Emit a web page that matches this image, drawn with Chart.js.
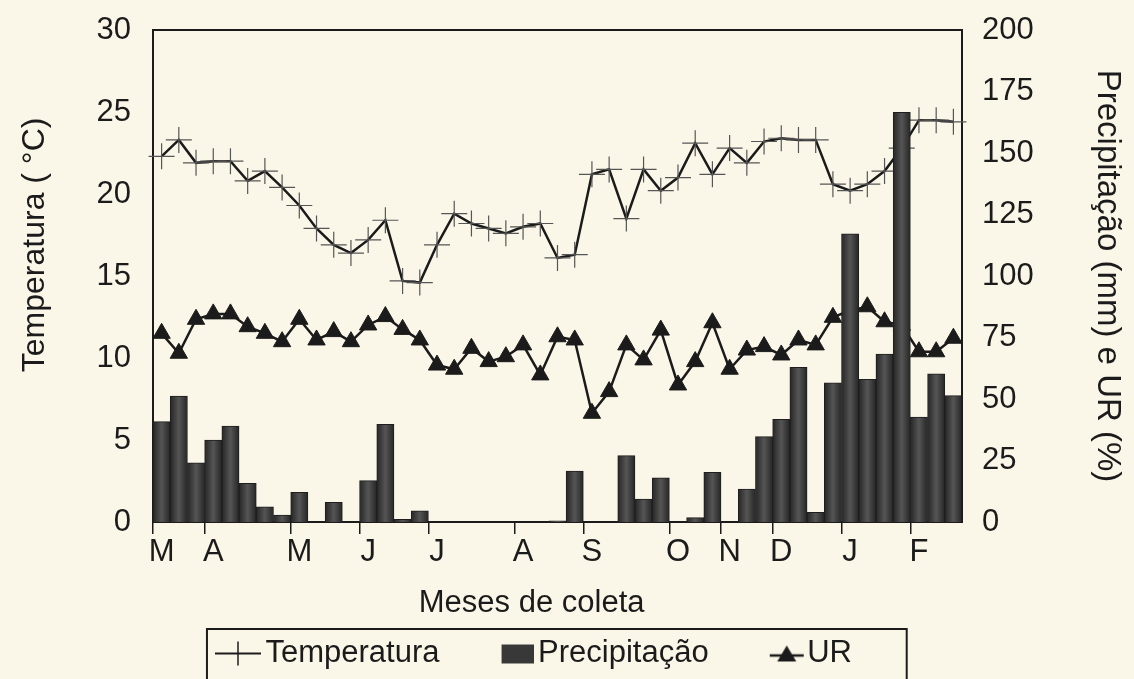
<!DOCTYPE html>
<html lang="pt">
<head>
<meta charset="utf-8">
<title>Temperatura, precipitação e UR</title>
<script src="https://cdn.jsdelivr.net/npm/chart.js@4.4.1/dist/chart.umd.min.js"></script>
<style>
  html, body { margin: 0; padding: 0; background: #fbf7e8; }
  #wrap { width: 1134px; height: 679px; position: relative; }
</style>
</head>
<body>
<div id="wrap"><canvas id="grafico"></canvas></div>
<script>
// 47 coletas, de março a fevereiro
var mesesLetras = ["M", "A", "M", "J", "J", "A", "S", "O", "N", "D", "J", "F"];
var mesesInicio = [0, 3, 8, 12, 16, 21, 25, 30, 33, 36, 40, 44];

var temperatura = [22.3, 23.3, 21.9, 22.0, 22.0, 20.8, 21.4, 20.4, 19.3, 17.9, 16.9, 16.4,
  17.2, 18.4, 14.7, 14.6, 16.9, 18.8, 18.2, 17.9, 17.6, 18.0, 18.2, 16.1, 16.3, 21.2, 21.5,
  18.5, 21.5, 20.2, 21.0, 23.1, 21.2, 22.8, 21.9, 23.2, 23.4, 23.3, 23.3, 20.6, 20.2, 20.6,
  21.4, 22.8, 24.5, 24.5, 24.4];

var precipitacao = [40.8, 51.2, 24.1, 33.3, 39.0, 15.7, 6.2, 2.8, 12.1, 0, 8.0, 0, 16.8,
  39.7, 1.1, 4.5, 0, 0, 0, 0, 0, 0, 0, 0.5, 20.7, 0, 0, 27.0, 9.3, 18.0, 0, 1.8, 20.2, 0,
  13.4, 34.7, 41.7, 62.9, 3.9, 56.6, 117.1, 58.0, 68.3, 166.5, 42.6, 60.2, 51.4];

var ur = [76.7, 68.6, 82.4, 84.6, 84.6, 79.4, 76.7, 73.3, 82.4, 74.0, 77.4, 73.3, 80.1,
  83.5, 78.3, 74.0, 63.8, 62.1, 70.6, 65.2, 67.2, 72.0, 59.8, 75.3, 74.0, 44.2, 53.0, 72.0,
  65.9, 78.0, 55.7, 65.2, 81.0, 62.1, 69.9, 71.3, 67.9, 74.0, 72.0, 83.2, 86.0, 87.5, 81.4,
  80.0, 69.2, 69.2, 74.7];

// rotulos do eixo x: letra do mes so na coleta onde o mes comeca
var rotulosX = temperatura.map(function () { return ""; });
mesesInicio.forEach(function (pos, i) { rotulosX[pos] = mesesLetras[i]; });

var corTexto = "#1b1b1b";
var corBarra = "#383838";
var fonte = "'Liberation Sans', Arial, Helvetica, sans-serif";

Chart.defaults.font.family = fonte;
Chart.defaults.color = corTexto;

// icones da legenda (linha + marcador)
function criarIcone(larg, alt, desenhar) {
  var c = document.createElement("canvas");
  c.width = larg;
  c.height = alt;
  desenhar(c.getContext("2d"));
  return c;
}

var iconeTemp = criarIcone(52, 30, function (g) {
  g.strokeStyle = corTexto;
  g.lineWidth = 2;
  g.beginPath(); g.moveTo(6, 15); g.lineTo(52, 15); g.stroke();
  g.lineWidth = 1.5;
  g.beginPath(); g.moveTo(29, 3); g.lineTo(29, 27); g.stroke();
});

var iconePrec = criarIcone(52, 22, function (g) {
  g.fillStyle = corBarra;
  g.fillRect(20, 2, 32, 19);
});

var iconeUR = criarIcone(66, 26, function (g) {
  g.strokeStyle = corTexto;
  g.lineWidth = 2.5;
  g.beginPath(); g.moveTo(26, 15); g.lineTo(60, 15); g.stroke();
  g.fillStyle = corTexto;
  g.beginPath(); g.moveTo(43, 5); g.lineTo(52.5, 21); g.lineTo(33.5, 21); g.closePath(); g.fill();
});

// barra com faixa clara no meio, como a textura do original
function corDaBarra(c) {
  var chart = c.chart;
  var area = chart.chartArea;
  if (!area || c.type !== "data") return corBarra;
  var larg = (area.right - area.left) / rotulosX.length;
  var x = chart.scales.x.getPixelForValue(c.dataIndex);
  var grad = chart.ctx.createLinearGradient(x - larg / 2, 0, x + larg / 2, 0);
  grad.addColorStop(0, "#262626");
  grad.addColorStop(0.5, "#555555");
  grad.addColorStop(1, "#262626");
  return grad;
}

// moldura em volta da legenda
var caixaLegenda = {
  id: "caixaLegenda",
  afterDraw: function (chart) {
    var leg = chart.legend;
    if (!leg || !leg.legendHitBoxes || leg.legendHitBoxes.length < 3) return;
    var hb = leg.legendHitBoxes;
    var esq = hb[0].left - 13;
    var dir = hb[2].left + 145;
    var ctx = chart.ctx;
    ctx.save();
    ctx.strokeStyle = corTexto;
    ctx.lineWidth = 2;
    ctx.strokeRect(esq, leg.top + 1, dir - esq, chart.height);
    ctx.restore();
  }
};

// fixa a largura do eixo y e tira a folga vertical dos rotulos
function larguraEixo(w) {
  return function (s) {
    s.width = w;
    s.paddingTop = 0;
    s.paddingBottom = 0;
  };
}

var ctx = document.getElementById("grafico");
new Chart(ctx, {
  type: "bar",
  data: {
    labels: rotulosX,
    datasets: [
      {
        type: "line",
        label: "Temperatura",
        data: temperatura,
        yAxisID: "y",
        order: 1,
        borderColor: corTexto,
        borderWidth: 2.5,
        tension: 0,
        pointStyle: "cross",
        pointRadius: 13,
        pointHoverRadius: 13,
        pointBorderColor: "#555555",
        pointBorderWidth: 1.2
      },
      {
        label: "Precipitação",
        data: precipitacao,
        yAxisID: "y1",
        order: 0,
        backgroundColor: corDaBarra,
        borderColor: "#1e1e1e",
        borderWidth: 1,
        categoryPercentage: 1,
        barPercentage: 1
      },
      {
        type: "line",
        label: "UR",
        data: ur,
        yAxisID: "y1",
        order: 2,
        borderColor: corTexto,
        borderWidth: 2.5,
        tension: 0,
        pointStyle: "triangle",
        pointRadius: 10,
        pointHoverRadius: 10,
        pointBackgroundColor: corTexto,
        pointBorderColor: corTexto,
        pointBorderWidth: 1
      }
    ]
  },
  options: {
    responsive: true,
    maintainAspectRatio: false,
    animation: false,
    layout: { padding: { top: 30, left: 0, right: 0, bottom: 0 } },
    scales: {
      x: {
        position: "bottom",
        offset: true,
        grid: {
          display: true,
          offset: true,
          drawOnChartArea: false,
          drawTicks: true,
          tickLength: 12,
          lineWidth: 1.5,
          tickColor: function (c) {
            return rotulosX[c.index] ? corTexto : "rgba(0,0,0,0)";
          }
        },
        border: { display: true, color: corTexto, width: 2 },
        ticks: {
          autoSkip: false,
          maxRotation: 0,
          minRotation: 0,
          padding: 0,
          color: corTexto,
          font: { size: 31 }
        },
        title: {
          display: true,
          text: "Meses de coleta      ",
          color: corTexto,
          font: { size: 31 },
          padding: { top: 0, bottom: 6 }
        },
        afterFit: function (s) { s.height = 106; }
      },
      xTopo: {
        position: "top",
        type: "category",
        grid: { display: false, drawTicks: false },
        ticks: { display: false },
        border: { display: true, color: corTexto, width: 2 },
        afterFit: function (s) { s.height = 0; }
      },
      y: {
        position: "left",
        min: 0,
        max: 30,
        grid: { display: false, drawTicks: false },
        border: { display: true, color: corTexto, width: 2 },
        ticks: { stepSize: 5, padding: 22, color: corTexto, font: { size: 31 } },
        title: {
          display: true,
          text: "       Temperatura ( °C)",
          color: corTexto,
          font: { size: 32 },
          padding: { top: 16, bottom: 0 }
        },
        afterFit: larguraEixo(153)
      },
      y1: {
        position: "right",
        min: 0,
        max: 200,
        grid: { display: false, drawTicks: false },
        border: { display: true, color: corTexto, width: 2 },
        ticks: { stepSize: 25, padding: 20, color: corTexto, font: { size: 31 } },
        title: {
          display: true,
          text: "Precipitação (mm) e UR (%)",
          color: corTexto,
          font: { size: 33 },
          padding: { top: 7, bottom: 0 }
        },
        afterFit: larguraEixo(172)
      }
    },
    plugins: {
      tooltip: { enabled: false },
      legend: {
        display: true,
        position: "bottom",
        fullSize: false,
        labels: {
          usePointStyle: true,
          pointStyleWidth: 30,
          padding: 10,
          color: corTexto,
          font: { size: 31 },
          generateLabels: function (chart) {
            return [
              { text: "Temperatura     ", pointStyle: iconeTemp, datasetIndex: 0, hidden: false,
                fillStyle: "rgba(0,0,0,0)", strokeStyle: "rgba(0,0,0,0)", lineWidth: 0, fontColor: corTexto },
              { text: "Precipitação     ", pointStyle: iconePrec, datasetIndex: 1, hidden: false,
                fillStyle: "rgba(0,0,0,0)", strokeStyle: "rgba(0,0,0,0)", lineWidth: 0, fontColor: corTexto },
              { text: "UR     ", pointStyle: iconeUR, datasetIndex: 2, hidden: false,
                fillStyle: "rgba(0,0,0,0)", strokeStyle: "rgba(0,0,0,0)", lineWidth: 0, fontColor: corTexto }
            ];
          }
        }
      }
    }
  },
  plugins: [caixaLegenda]
});
</script>
</body>
</html>
